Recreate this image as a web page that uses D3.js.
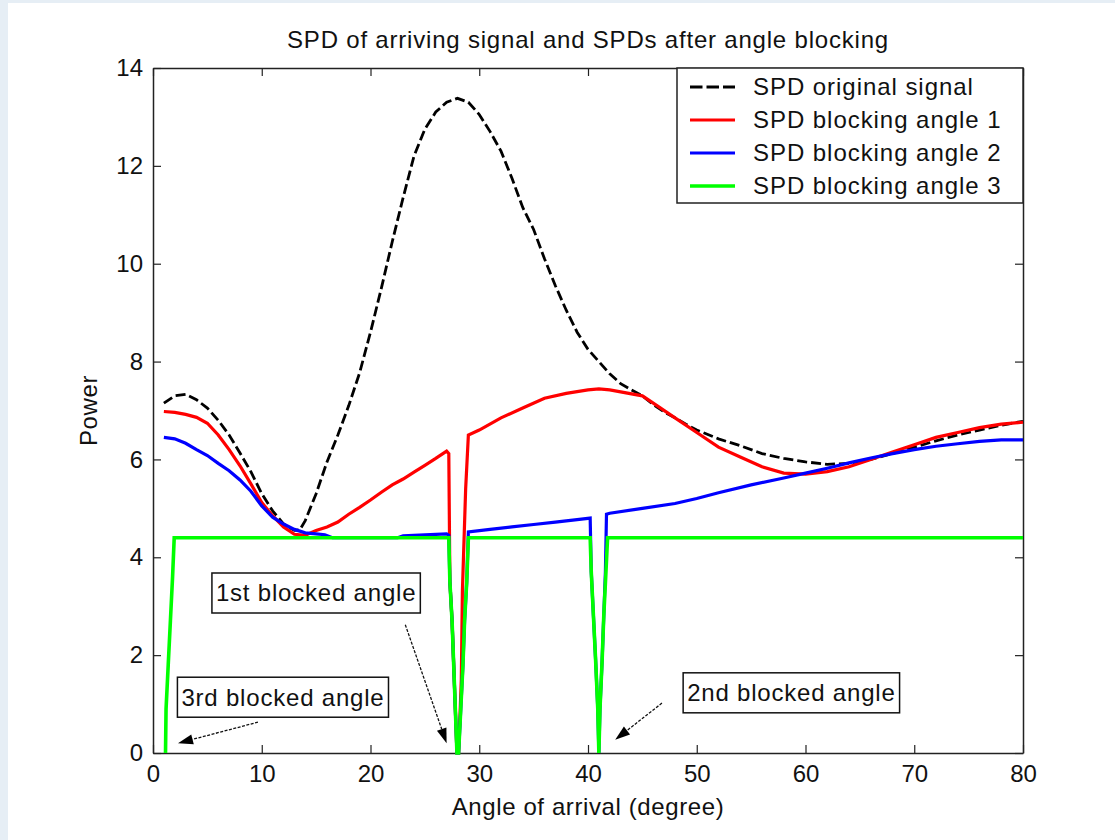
<!DOCTYPE html>
<html>
<head>
<meta charset="utf-8">
<script src="https://cdn.jsdelivr.net/npm/d3@7"></script>
<style>
  html, body { margin: 0; padding: 0; background: #ffffff; }
  svg { display: block; }
  text { font-family: "Liberation Sans", Arial, sans-serif; fill: #111; }
</style>
</head>
<body>
<svg id="chart" width="1115" height="840"></svg>
<script>
// ---- data: angle of arrival (degree) vs. power ----
const xTicks = [0, 10, 20, 30, 40, 50, 60, 70, 80];
const yTicks = [0, 2, 4, 6, 8, 10, 12, 14];

const seriesNames = [
  "SPD original signal",
  "SPD blocking angle 1",
  "SPD blocking angle 2",
  "SPD blocking angle 3"
];

const spdOriginal = [
  [1, 7.15], [2, 7.3], [3, 7.33], [4, 7.22], [5, 7.05], [6, 6.8], [7, 6.5], [8, 6.13],
  [9, 5.75], [10, 5.3], [11, 4.95], [12, 4.68], [13, 4.55], [13.5, 4.56], [14, 4.75],
  [15, 5.3], [16, 5.95], [17, 6.5], [18, 7.1], [19, 7.77], [20, 8.6], [21, 9.5],
  [22, 10.45], [23, 11.35], [24, 12.2], [25, 12.75], [26, 13.1], [27, 13.3], [28, 13.38],
  [29, 13.3], [30, 13.05], [31, 12.7], [32, 12.3], [33, 11.75], [34, 11.15], [35, 10.7],
  [36, 10.1], [37, 9.55], [38, 9.05], [39, 8.6], [40, 8.25], [41, 8.0], [42, 7.75],
  [43, 7.55], [44, 7.42], [45, 7.3], [46, 7.12], [47, 6.97], [48, 6.85], [49, 6.72],
  [50, 6.6], [52, 6.42], [54, 6.28], [56, 6.12], [58, 6.02], [60, 5.95], [62, 5.9],
  [64, 5.92], [66, 6.0], [68, 6.12], [70, 6.25], [72, 6.38], [74, 6.5], [76, 6.6],
  [78, 6.7], [80, 6.78]
];

const spdBlock1 = [
  [1, 6.98], [2, 6.96], [3, 6.92], [4, 6.86], [5, 6.74], [6, 6.5], [7, 6.2], [8, 5.87],
  [9, 5.5], [10, 5.12], [11, 4.85], [12, 4.62], [13, 4.47], [14, 4.45], [15, 4.55],
  [16, 4.62], [17, 4.72], [18, 4.88], [19, 5.02], [20, 5.17], [21, 5.33], [22, 5.48],
  [23, 5.6], [24, 5.74], [25, 5.88], [26, 6.02], [27, 6.17], [27.2, 6.12], [27.3, 3.5],
  [27.5, 2.7], [27.65, 1.8], [27.8, 0.9], [27.95, 0], [28.1, 0], [28.35, 1.5],
  [28.45, 3.3], [28.75, 5.4], [29, 6.5], [30, 6.6], [32, 6.85], [34, 7.05], [36, 7.25],
  [38, 7.35], [40, 7.42], [41, 7.44], [42, 7.42], [43, 7.38], [45, 7.3], [46, 7.15],
  [48, 6.85], [50, 6.55], [52, 6.25], [54, 6.05], [56, 5.85], [58, 5.72], [60, 5.7],
  [62, 5.75], [64, 5.85], [66, 6.0], [68, 6.15], [70, 6.3], [72, 6.45], [74, 6.55],
  [76, 6.65], [78, 6.72], [80, 6.76]
];

const spdBlock2 = [
  [1, 6.45], [2, 6.42], [3, 6.33], [4, 6.2], [5, 6.08], [6, 5.92], [7, 5.77], [8, 5.58],
  [9, 5.35], [10, 5.05], [11, 4.82], [12, 4.68], [13, 4.57], [14, 4.5], [15, 4.48],
  [15.8, 4.46], [16.5, 4.4], [22.5, 4.4], [23, 4.44], [25, 4.46], [27, 4.48],
  [27.2, 4.45], [27.3, 3.5], [27.5, 2.7], [27.65, 1.8], [27.8, 0.9], [27.95, 0],
  [28.1, 0], [28.3, 0.9], [28.5, 1.8], [28.65, 2.7], [28.85, 3.5], [29, 4.52],
  [31, 4.57], [33, 4.62], [35, 4.67], [37, 4.72], [39, 4.77], [40.2, 4.8],
  [40.3, 3.7], [40.5, 2.8], [40.7, 1.9], [40.9, 0.9], [41.0, 0], [41.1, 0.9],
  [41.3, 1.9], [41.45, 2.8], [41.6, 3.7], [41.7, 4.88], [42, 4.9], [45, 5.0],
  [48, 5.1], [50, 5.2], [52, 5.32], [55, 5.48], [58, 5.62], [60, 5.72], [62, 5.82],
  [64, 5.93], [66, 6.03], [68, 6.12], [70, 6.2], [72, 6.27], [74, 6.32], [76, 6.37],
  [78, 6.4], [80, 6.4]
];

const spdBlock3 = [
  [1.15, 0], [1.2, 0.9], [1.4, 1.8], [1.6, 2.7], [1.8, 3.6], [1.95, 4.4],
  [27.2, 4.4], [27.3, 3.5], [27.5, 2.7], [27.65, 1.8], [27.8, 0.9], [27.95, 0],
  [28.1, 0], [28.3, 0.9], [28.5, 1.8], [28.65, 2.7], [28.85, 3.5], [29.0, 4.4],
  [40.2, 4.4], [40.3, 3.7], [40.5, 2.8], [40.7, 1.9], [40.9, 0.9], [41.0, 0],
  [41.1, 0.9], [41.3, 1.9], [41.45, 2.8], [41.65, 3.7], [41.8, 4.4], [80, 4.4]
];

// text annotations: label anchor and arrow (from -> tip), in data units
const noteLabels = ["1st blocked angle", "3rd blocked angle", "2nd blocked angle"];
const noteAnchors = [[15.0, 3.27], [11.95, 1.14], [58.7, 1.23]];
const noteArrows = [
  [[23.2, 2.62], [27.0, 0.2]],
  [[9.65, 0.63], [2.3, 0.2]],
  [[46.8, 1.02], [42.5, 0.27]]
];

// ---- drawing ----
const W = 1115, H = 840;
const svg = d3.select("#chart");

// window backdrop
svg.append("rect").attr("width", W).attr("height", H).attr("fill", "#e6eef5");
svg.append("rect").attr("x", 8).attr("y", 3).attr("width", W - 8).attr("height", H - 3).attr("fill", "#ffffff");

const x = d3.scaleLinear().domain([0, 80]).range([153, 1023]);
const y = d3.scaleLinear().domain([0, 14]).range([753, 68]);

const tickLen = 8;
const axisColor = "#222";
const labelSpacing = "0.8px";

function styleAxis(g) {
  g.selectAll(".domain").attr("stroke", axisColor).attr("stroke-width", 1.5);
  g.selectAll(".tick line").attr("stroke", axisColor).attr("stroke-width", 1.2);
  g.selectAll(".tick text")
    .attr("font-family", '"Liberation Sans", Arial, sans-serif')
    .attr("font-size", 24).attr("fill", "#111");
}

svg.append("g").attr("transform", `translate(0,${y(0)})`)
  .call(d3.axisBottom(x).tickValues(xTicks).tickSizeInner(-tickLen).tickSizeOuter(0).tickPadding(12))
  .call(styleAxis);
svg.append("g").attr("transform", `translate(0,${y(14)})`)
  .call(d3.axisTop(x).tickValues(xTicks).tickSizeInner(-tickLen).tickSizeOuter(0).tickFormat(""))
  .call(styleAxis);
svg.append("g").attr("transform", `translate(${x(0)},0)`)
  .call(d3.axisLeft(y).tickValues(yTicks).tickSizeInner(-tickLen).tickSizeOuter(0).tickPadding(10))
  .call(styleAxis);
svg.append("g").attr("transform", `translate(${x(80)},0)`)
  .call(d3.axisRight(y).tickValues(yTicks).tickSizeInner(-tickLen).tickSizeOuter(0).tickFormat(""))
  .call(styleAxis);

// title and axis labels
svg.append("text").attr("x", (x(0) + x(80)) / 2).attr("y", 48)
  .attr("text-anchor", "middle").attr("font-size", 24).attr("letter-spacing", labelSpacing)
  .text("SPD of arriving signal and SPDs after angle blocking");
svg.append("text").attr("x", (x(0) + x(80)) / 2).attr("y", 815)
  .attr("text-anchor", "middle").attr("font-size", 24).attr("letter-spacing", "0.6px")
  .text("Angle of arrival (degree)");
svg.append("text").attr("transform", `translate(97,${(y(0) + y(14)) / 2}) rotate(-90)`)
  .attr("text-anchor", "middle").attr("font-size", 24).attr("letter-spacing", "0.6px")
  .text("Power");

// curves
const line = d3.line().x(d => x(d[0])).y(d => y(d[1]));
const seriesData = [spdOriginal, spdBlock1, spdBlock2, spdBlock3];
const seriesColor = ["#000000", "#ff0000", "#0000ff", "#00ff00"];
const seriesWidth = [2.8, 3.2, 3.2, 3.6];
const seriesDash = ["10,4", null, null, null];

seriesData.forEach((data, i) => {
  svg.append("path").datum(data)
    .attr("d", line)
    .attr("fill", "none")
    .attr("stroke", seriesColor[i])
    .attr("stroke-width", seriesWidth[i])
    .attr("stroke-linejoin", "miter")
    .attr("stroke-dasharray", seriesDash[i]);
});

// legend
const legend = svg.append("g");
const lgX = 677, lgY = y(14), lgW = x(80) - 677, lgH = 135;
legend.append("rect").attr("x", lgX).attr("y", lgY).attr("width", lgW).attr("height", lgH)
  .attr("fill", "#ffffff").attr("stroke", axisColor).attr("stroke-width", 1.5);
seriesNames.forEach((name, i) => {
  const cy = lgY + 19 + i * 33;
  legend.append("line").attr("x1", 690).attr("x2", 735).attr("y1", cy).attr("y2", cy)
    .attr("stroke", seriesColor[i]).attr("stroke-width", seriesWidth[i])
    .attr("stroke-dasharray", i === 0 ? "12.5,4" : null);
  legend.append("text").attr("x", 753).attr("y", cy).attr("dy", "0.35em")
    .attr("font-size", 24).attr("letter-spacing", "0.95px").text(name);
});

// annotations
const notes = svg.append("g");
noteLabels.forEach((label, i) => {
  const [ax, ay] = noteArrows[i][0];
  const [tx, ty] = noteArrows[i][1];
  const x1 = x(ax), y1 = y(ay), x2 = x(tx), y2 = y(ty);
  const ang = Math.atan2(y2 - y1, x2 - x1);
  const hl = 15, hw = 5;
  const bx = x2 - hl * Math.cos(ang), by = y2 - hl * Math.sin(ang);
  notes.append("line").attr("x1", x1).attr("y1", y1).attr("x2", bx).attr("y2", by)
    .attr("stroke", "#111").attr("stroke-width", 1.3).attr("stroke-dasharray", "3,1.5");
  notes.append("path")
    .attr("d", `M${x2},${y2} L${bx + hw * Math.sin(ang)},${by - hw * Math.cos(ang)} L${bx - hw * Math.sin(ang)},${by + hw * Math.cos(ang)} Z`)
    .attr("fill", "#000");

  const cx = x(noteAnchors[i][0]), cy = y(noteAnchors[i][1]);
  const t = notes.append("text").attr("x", cx).attr("y", cy).attr("dy", "0.35em")
    .attr("text-anchor", "middle").attr("font-size", 24).attr("letter-spacing", labelSpacing)
    .text(label);
  const bb = t.node().getBBox();
  notes.insert("rect", () => t.node())
    .attr("x", bb.x - 4).attr("y", cy - 20).attr("width", bb.width + 8).attr("height", 40)
    .attr("fill", "#ffffff").attr("stroke", "#111").attr("stroke-width", 1.5);
});
</script>
</body>
</html>
